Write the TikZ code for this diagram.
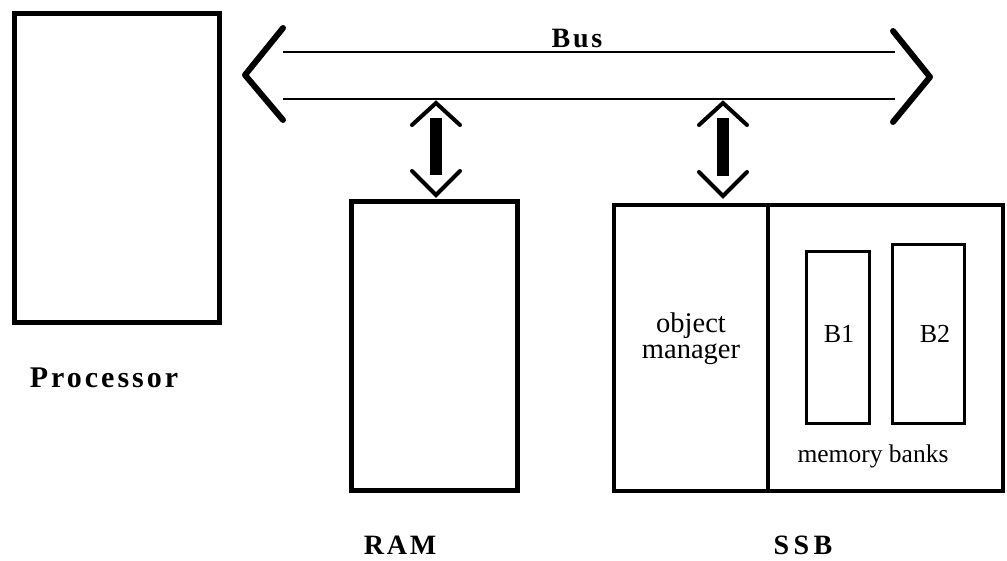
\documentclass[tikz,border=0pt]{standalone}
\usepackage{fontspec}
\setmainfont{Liberation Serif}
\newfontfamily\lblfont[LetterSpace=10]{Liberation Serif}
\newfontfamily\widelblfont[LetterSpace=16]{Liberation Serif}
\usetikzlibrary{calc}
\begin{document}
\begin{tikzpicture}[x=1pt,y=-1pt,
  box/.style={draw=black, line width=#1, inner sep=0pt, outer sep=0pt, fill=white},
  box/.default=5pt,
  lbl/.style={font=\lblfont\bfseries\fontsize{29}{30}\selectfont, anchor=base, inner sep=0pt},
  txt/.style={font=\fontsize{26}{28}\selectfont, inner sep=0pt, align=center},
  busline/.style={line width=2pt},
  chev/.style={line width=6pt, line cap=round, line join=round},
  achev/.style={line width=4pt, line cap=round, line join=miter},
  abar/.style={line width=12pt}
]
\useasboundingbox (0,0) rectangle (1007,561);
% Processor
\node[box, minimum width=205pt, minimum height=309pt] (proc) at (117,168) {};
\node[lbl, font=\lblfont\bfseries\fontsize{30}{31}\selectfont] (proclbl) at (104,388) {Processor};
% Bus
\coordinate (busTL) at (283,52);
\coordinate (busTR) at (895,52);
\coordinate (busBL) at (283,99);
\coordinate (busBR) at (895,99);
\draw[busline] (busTL) -- (busTR);
\draw[busline] (busBL) -- (busBR);
\coordinate (lt) at (283,28);
\coordinate (ltip) at (245,75);
\coordinate (lb) at (283,120);
\coordinate (rt) at (893,31);
\coordinate (rtip) at (930,77);
\coordinate (rb) at (893,122);
\draw[chev] (lt) -- (ltip) -- (lb);
\draw[chev] (rt) -- (rtip) -- (rb);
\node[lbl, font=\lblfont\bfseries\fontsize{28}{29}\selectfont] (buslbl) at (577,48) {Bus};
% RAM
\node[box, minimum width=166pt, minimum height=289pt] (ram) at (434.5,346) {};
\node[lbl, font=\lblfont\bfseries\fontsize{28}{29}\selectfont] (ramlbl) at (400,554) {RAM};
% SSB
\node[box=4pt, minimum width=154pt, minimum height=286pt] (om) at (691,348) {};
\node[box=4pt, minimum width=235pt, minimum height=286pt] (mb) at (885.5,348) {};
\node[txt, anchor=base, font=\fontsize{28.5}{26}\selectfont] (omt) at (691,359) {object\\manager};
\node[box=3pt, minimum width=63pt, minimum height=171pt] (b1) at (837.5,337.5) {};
\node[box=3pt, minimum width=72pt, minimum height=178pt] (b2) at (928,334) {};
\node[txt, anchor=base] (b1t) at (839,343) {B1};
\node[txt, anchor=base] (b2t) at (935,343) {B2};
\node[txt, anchor=base, font=\fontsize{25.5}{27}\selectfont] (mbt) at (873,462) {memory banks};
\node[lbl, font=\widelblfont\bfseries\fontsize{28}{29}\selectfont] (ssblbl) at (803,554) {SSB};
% Connectors bus <-> RAM, bus <-> SSB
\coordinate (ramtop) at (436,103);
\coordinate (ramend) at (436,195);
\coordinate (ssbtop) at (723,103);
\coordinate (ssbend) at (723,196);
\foreach \t/\e in {ramtop/ramend, ssbtop/ssbend}{
  \draw[achev] ($(\t)+(-24,22)$) -- (\t) -- ($(\t)+(24,22)$);
  \draw[achev] ($(\e)+(-24,-24)$) -- (\e) -- ($(\e)+(24,-24)$);
  \draw[abar] ($(\t)+(0,15)$) -- ($(\e)+(0,-20)$);
}
\end{tikzpicture}
\end{document}
